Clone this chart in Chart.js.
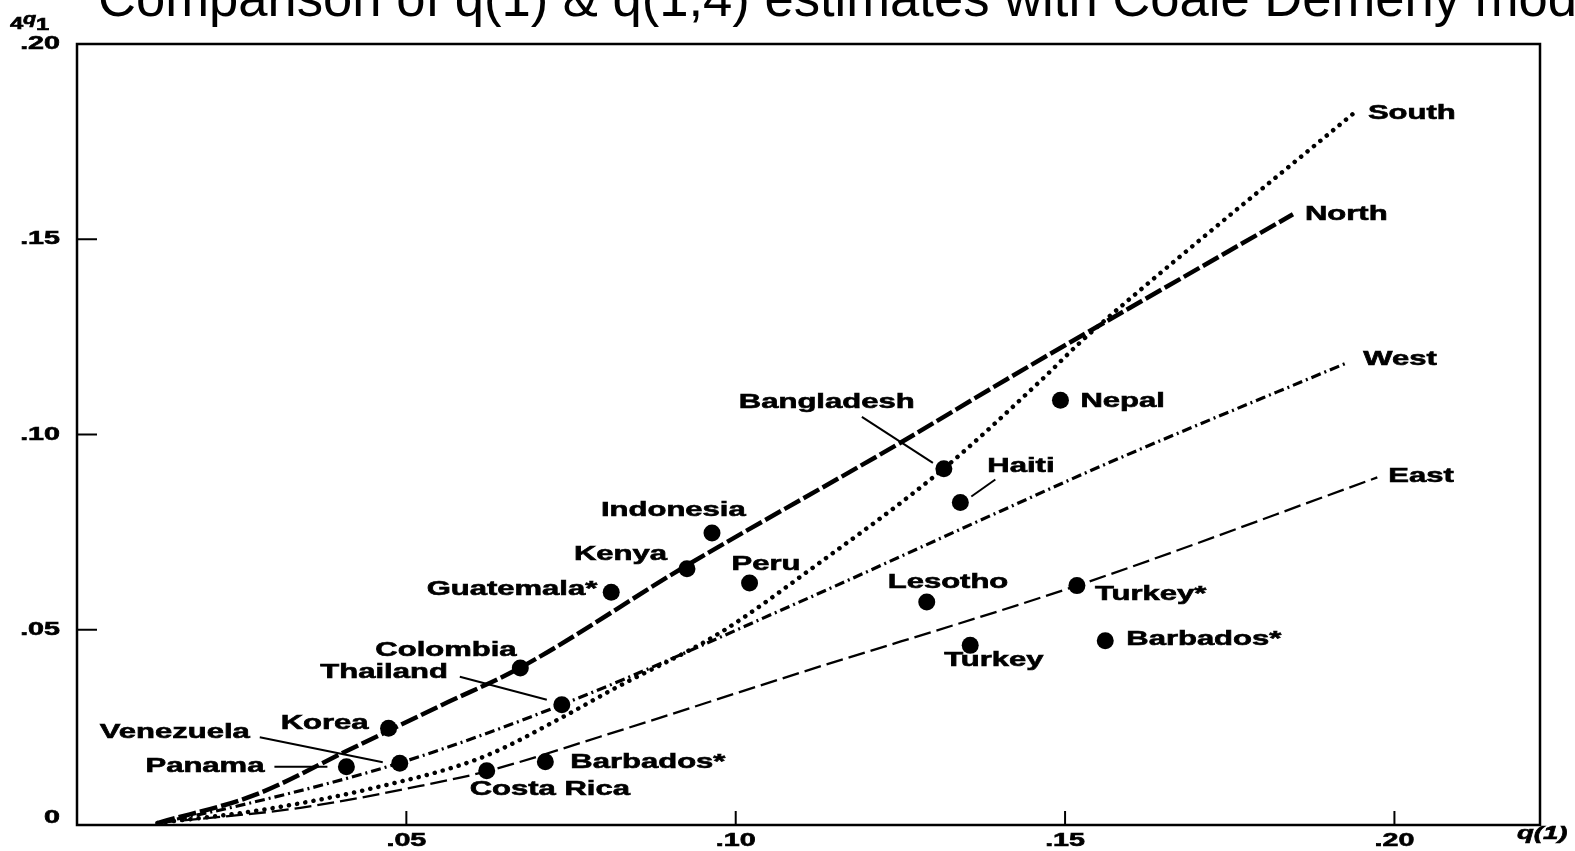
<!DOCTYPE html>
<html>
<head>
<meta charset="utf-8">
<script src="https://cdn.jsdelivr.net/npm/chart.js@4.4.1/dist/chart.umd.min.js"></script>
<style>
  html, body { margin: 0; padding: 0; background: #fff; }
  canvas { display: block; }
</style>
</head>
<body>
<canvas id="chart" width="1575" height="851" style="width:1575px;height:851px"></canvas>
<script>
// model curves (Coale-Demeny families): q(1) on x, 4q1 on y
const northX = [0.0122, 0.0270, 0.0410, 0.0551, 0.0673, 0.0923, 0.1248, 0.1411, 0.1523, 0.1846];
const northY = [0.0005, 0.0077, 0.0190, 0.0305, 0.0403, 0.0662, 0.0977, 0.1141, 0.1251, 0.1564];
const southX = [0.0122, 0.0278, 0.0456, 0.0616, 0.0738, 0.0812, 0.0976, 0.1113, 0.1316, 0.1465, 0.1523, 0.1603, 0.1937];
const southY = [0.0005, 0.0038, 0.0097, 0.0174, 0.0277, 0.0346, 0.0492, 0.0654, 0.0913, 0.1141, 0.1236, 0.1354, 0.1821];
const westX = [0.0122, 0.0232, 0.0490, 0.0736, 0.1098, 0.1401, 0.1553, 0.1930];
const westY = [0.0005, 0.0044, 0.0159, 0.0308, 0.0572, 0.0803, 0.0918, 0.1185];
const eastX = [0.0122, 0.0339, 0.0521, 0.0623, 0.0794, 0.1098, 0.1518, 0.1974];
const eastY = [0.0005, 0.0044, 0.0100, 0.0138, 0.0226, 0.0390, 0.0613, 0.0890];

// country estimates
const countries = ['Panama', 'Venezuela', 'Korea', 'Colombia', 'Thailand', 'Costa Rica', 'Barbados*',
  'Guatemala*', 'Kenya', 'Indonesia', 'Peru', 'Bangladesh', 'Haiti', 'Lesotho', 'Turkey', 'Nepal',
  'Turkey*', 'Barbados*'];
const countryQ1 = [0.0409, 0.0490, 0.0473, 0.0673, 0.0736, 0.0622, 0.0711,
  0.0811, 0.0926, 0.0964, 0.1021, 0.1316, 0.1341, 0.1290, 0.1356, 0.1493,
  0.1518, 0.1561];
const country4q1 = [0.0149, 0.0158, 0.0248, 0.0402, 0.0308, 0.0139, 0.0162,
  0.0596, 0.0656, 0.0748, 0.0620, 0.0912, 0.0826, 0.0571, 0.0460, 0.1088,
  0.0613, 0.0472];

const xTicks = [0.05, 0.10, 0.15, 0.20];
const xTickLabels = ['.05', '.10', '.15', '.20'];
const yTicks = [0, 0.05, 0.10, 0.15, 0.20];
const yTickLabels = ['0', '.05', '.10', '.15', '.20'];

// label placement in pixels relative to each dot: [dx, dy, align, leader]
const labelLayout = [
  [-82, 0, 'right', [-72, 0, -19, 0]],
  [-150, -31, 'right', [-140, -26, -17, -1]],
  [-20, -5, 'right'],
  [-145, -18, 'left'],
  [-114, -32, 'right', [-102, -28, -15, -5]],
  [-17, 19, 'left'],
  [25, 1, 'left'],
  [-14, -3, 'right'],
  [-20, -14, 'right'],
  [-111, -22, 'left'],
  [-18, -18, 'left'],
  [-205, -66, 'left', [-82, -52, -11, -6]],
  [27, -36, 'left', [35, -23, 11, -6]],
  [-39, -20, 'left'],
  [-26, 15, 'left'],
  [20, 1, 'left'],
  [18, 9, 'left'],
  [21, -1, 'left']
];
const curveLabelOffsets = { North: [12, 0], South: [15, 0], West: [15, -3], East: [11, -1] };

const LABEL_FONT = 'bold 20px "Liberation Sans", Arial, sans-serif';
const TICK_FONT = 'bold 18.5px "Liberation Sans", Arial, sans-serif';
const STRETCH = 1.55;

function pts(xs, ys) {
  return xs.map((x, i) => ({ x: x, y: ys[i] }));
}

// the source figure is stretched sideways, so its lettering is too
function stretchText(ctx, text, x, y, align, font, sx) {
  ctx.save();
  ctx.font = font;
  const w = ctx.measureText(text).width * sx;
  let left = x;
  if (align === 'right') left = x - w;
  else if (align === 'center') left = x - w / 2;
  ctx.translate(left, y);
  ctx.scale(sx, 1);
  ctx.textAlign = 'left';
  ctx.textBaseline = 'middle';
  ctx.fillStyle = '#000';
  ctx.strokeStyle = '#000';
  ctx.lineWidth = 0.6;
  ctx.fillText(text, 0, 0);
  ctx.strokeText(text, 0, 0);
  ctx.restore();
}

const decorPlugin = {
  id: 'decor',
  afterDraw(chart) {
    const ctx = chart.ctx;
    const a = chart.chartArea;
    const xs = chart.scales.x, ys = chart.scales.y;
    ctx.save();
    ctx.strokeStyle = '#000';
    ctx.fillStyle = '#000';

    // frame
    ctx.lineWidth = 2.5;
    ctx.strokeRect(a.left, a.top, a.right - a.left, a.bottom - a.top);

    // inward tick marks
    ctx.lineWidth = 2;
    xTicks.forEach(v => {
      const px = xs.getPixelForValue(v);
      ctx.beginPath(); ctx.moveTo(px, a.bottom); ctx.lineTo(px, a.bottom - 14); ctx.stroke();
    });
    yTicks.forEach(v => {
      if (v === 0 || v === 0.2) return;
      const py = ys.getPixelForValue(v);
      ctx.beginPath(); ctx.moveTo(a.left, py); ctx.lineTo(a.left + 20, py); ctx.stroke();
    });

    // tick labels
    xTicks.forEach((v, i) => {
      stretchText(ctx, xTickLabels[i], xs.getPixelForValue(v), 841, 'center', TICK_FONT, STRETCH);
    });
    yTicks.forEach((v, i) => {
      const py = Math.min(ys.getPixelForValue(v), a.bottom - 7);
      stretchText(ctx, yTickLabels[i], 60, py, 'right', TICK_FONT, STRETCH);
    });

    // axis titles
    stretchText(ctx, 'q(1)', 1517, 834, 'left', 'italic bold 19px "Liberation Sans", Arial, sans-serif', 1.45);
    stretchText(ctx, '4', 10, 24, 'left', 'bold 17px "Liberation Sans", Arial, sans-serif', 1.4);
    stretchText(ctx, 'q', 23, 20, 'left', 'italic bold 16px "Liberation Sans", Arial, sans-serif', 1.35);
    stretchText(ctx, '1', 36, 25, 'left', 'bold 17px "Liberation Sans", Arial, sans-serif', 1.4);

    // country labels and leader lines
    ctx.lineWidth = 2;
    countries.forEach((name, i) => {
      const px = xs.getPixelForValue(countryQ1[i]);
      const py = ys.getPixelForValue(country4q1[i]);
      const lay = labelLayout[i];
      stretchText(ctx, name, px + lay[0], py + lay[1], lay[2], LABEL_FONT, STRETCH);
      if (lay[3]) {
        const l = lay[3];
        ctx.beginPath();
        ctx.moveTo(px + l[0], py + l[1]);
        ctx.lineTo(px + l[2], py + l[3]);
        ctx.stroke();
      }
    });

    // curve labels at the end of each model line
    chart.data.datasets.forEach(ds => {
      const off = curveLabelOffsets[ds.label];
      if (!off) return;
      const last = ds.data[ds.data.length - 1];
      const px = xs.getPixelForValue(last.x);
      const py = ys.getPixelForValue(last.y);
      stretchText(ctx, ds.label, px + off[0], py + off[1], 'left', LABEL_FONT, STRETCH);
    });

    // title (runs off the top and right edge as in the source)
    ctx.font = '52.6px "Liberation Sans", Arial, sans-serif';
    ctx.textAlign = 'left';
    ctx.textBaseline = 'alphabetic';
    ctx.fillText('Comparison of q(1) & q(1,4) estimates with Coale Demeny models', 98, 16);
    ctx.restore();
  }
};

const lineBase = {
  showLine: true,
  pointRadius: 0,
  fill: false,
  borderColor: '#000',
  cubicInterpolationMode: 'monotone'
};

new Chart(document.getElementById('chart').getContext('2d'), {
  type: 'scatter',
  data: {
    datasets: [
      Object.assign({}, lineBase, { label: 'North', data: pts(northX, northY), borderWidth: 4.5, borderDash: [18, 4] }),
      Object.assign({}, lineBase, { label: 'South', data: pts(southX, southY), borderWidth: 4.5, borderDash: [0.1, 8.2], borderCapStyle: 'round' }),
      Object.assign({}, lineBase, { label: 'West', data: pts(westX, westY), borderWidth: 3.2, borderDash: [10, 4, 2, 4] }),
      Object.assign({}, lineBase, { label: 'East', data: pts(eastX, eastY), borderWidth: 2.3, borderDash: [17, 6] }),
      {
        label: 'Countries',
        data: pts(countryQ1, country4q1),
        showLine: false,
        pointRadius: 8.5,
        pointBackgroundColor: '#000',
        pointBorderWidth: 0
      }
    ]
  },
  options: {
    responsive: false,
    animation: false,
    layout: { padding: { left: 77, right: 35, top: 44, bottom: 26 } },
    plugins: { legend: { display: false }, tooltip: { enabled: false } },
    scales: {
      x: { type: 'linear', min: 0, max: 0.2221, display: false },
      y: { type: 'linear', min: 0, max: 0.2, display: false }
    }
  },
  plugins: [decorPlugin]
});
</script>
</body>
</html>
